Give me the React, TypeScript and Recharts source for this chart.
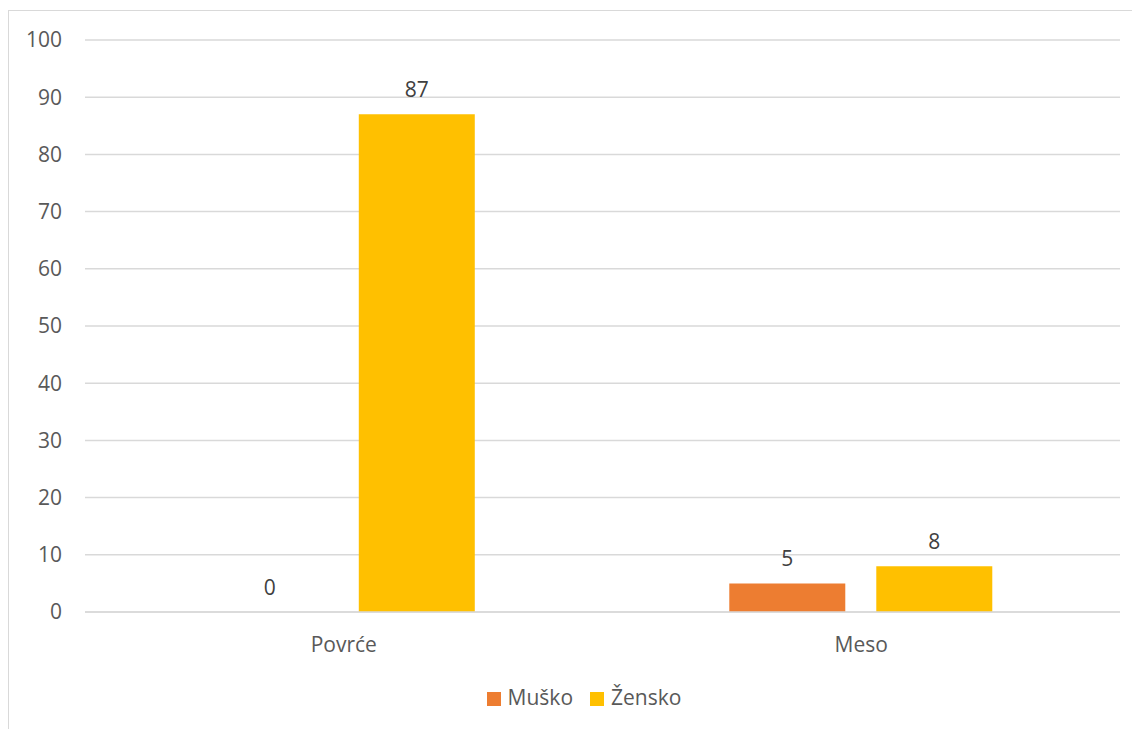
import { Bar, BarChart, CartesianGrid, LabelList, Legend, XAxis, YAxis } from "recharts";

const categories = ["Povrće", "Meso"];
const musko = [0, 5];
const zensko = [87, 8];
const yTicks = [0, 10, 20, 30, 40, 50, 60, 70, 80, 90, 100];

const data = categories.map((name, i) => ({ name, musko: musko[i], zensko: zensko[i] }));

const FONT = "'Open Sans', 'Noto Sans', sans-serif";
const TEXT = "#595959";

export default function App() {
  return (
    <div
      style={{
        marginTop: 2,
        width: 1140,
        height: 730,
        border: "1px solid #d9d9d9",
        background: "#fff",
        fontFamily: FONT,
      }}
    >
      <BarChart
        width={1132}
        height={718}
        data={data}
        margin={{ top: 29, right: 21, left: 0, bottom: 0 }}
        barCategoryGap="24.5%"
        barGap={31}
      >
        <CartesianGrid vertical={false} stroke="#d9d9d9" strokeWidth={1.5} />
        <XAxis
          dataKey="name"
          height={87}
          axisLine={{ stroke: "#d9d9d9", strokeWidth: 1.5 }}
          tickLine={false}
          tickMargin={19}
          tick={{ fill: TEXT, fontSize: 21, fontFamily: FONT }}
        />
        <YAxis
          width={76}
          domain={[0, 100]}
          ticks={yTicks}
          axisLine={false}
          tickLine={false}
          tickMargin={17}
          tick={{ fill: TEXT, fontSize: 21, fontFamily: FONT }}
        />
        <Legend
          verticalAlign="bottom"
          iconType="square"
          iconSize={14}
          height={30}
          wrapperStyle={{ bottom: 16, paddingLeft: 28, fontSize: 21, fontFamily: FONT }}
          formatter={(value) => (
            <span style={{ color: TEXT, marginLeft: 3, marginRight: 7 }}>{value}</span>
          )}
        />
        <Bar dataKey="musko" name="Muško" fill="#ED7D31" minPointSize={0.01} isAnimationActive={false}>
          <LabelList dataKey="musko" position="top" offset={17} fill="#404040" fontSize={21} />
        </Bar>
        <Bar dataKey="zensko" name="Žensko" fill="#FFC000" isAnimationActive={false}>
          <LabelList dataKey="zensko" position="top" offset={17} fill="#404040" fontSize={21} />
        </Bar>
      </BarChart>
    </div>
  );
}
